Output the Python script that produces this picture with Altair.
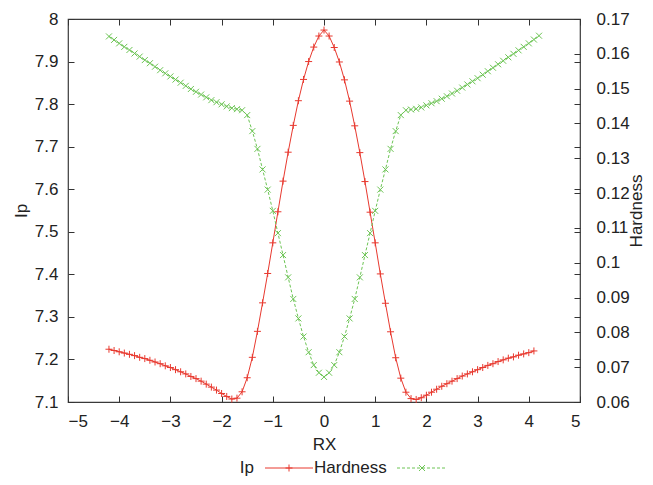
import altair as alt
import pandas as pd

# ---------------- data ----------------
ip_x = [-4.2, -4.1, -4.0, -3.9, -3.8, -3.7, -3.6, -3.5, -3.4, -3.3, -3.2, -3.1,
        -3.0, -2.9, -2.8, -2.7, -2.6, -2.5, -2.4, -2.3, -2.2, -2.1, -2.0, -1.9,
        -1.8, -1.7, -1.6, -1.5, -1.4, -1.3, -1.2, -1.1, -1.0, -0.9, -0.8, -0.7,
        -0.6, -0.5, -0.4, -0.3, -0.2, -0.1, 0.0, 0.1, 0.2, 0.3, 0.4, 0.5, 0.6,
        0.7, 0.8, 0.9, 1.0, 1.1, 1.2, 1.3, 1.4, 1.5, 1.6, 1.7, 1.8, 1.9, 2.0,
        2.1, 2.2, 2.3, 2.4, 2.5, 2.6, 2.7, 2.8, 2.9, 3.0, 3.1, 3.2, 3.3, 3.4,
        3.5, 3.6, 3.7, 3.8, 3.9, 4.0, 4.1]
ip_y = [7.224, 7.221, 7.218, 7.215, 7.212, 7.209, 7.205, 7.202, 7.198, 7.194,
        7.190, 7.185, 7.181, 7.176, 7.171, 7.166, 7.160, 7.155, 7.149, 7.142,
        7.135, 7.128, 7.120, 7.113, 7.107, 7.109, 7.124, 7.157, 7.205, 7.266,
        7.333, 7.402, 7.474, 7.547, 7.619, 7.687, 7.750, 7.808, 7.858, 7.900,
        7.934, 7.960, 7.974, 7.960, 7.933, 7.899, 7.857, 7.807, 7.749, 7.686,
        7.618, 7.546, 7.474, 7.401, 7.332, 7.265, 7.204, 7.156, 7.123, 7.108,
        7.106, 7.110, 7.116, 7.123, 7.130, 7.137, 7.143, 7.149, 7.155, 7.161,
        7.166, 7.171, 7.176, 7.181, 7.186, 7.190, 7.195, 7.199, 7.203, 7.206,
        7.210, 7.213, 7.216, 7.220]

hard_x = [-4.2, -4.1, -4.0, -3.9, -3.8, -3.7, -3.6, -3.5, -3.4, -3.3, -3.2, -3.1,
          -3.0, -2.9, -2.8, -2.7, -2.6, -2.5, -2.4, -2.3, -2.2, -2.1, -2.0, -1.9,
          -1.8, -1.7, -1.6, -1.5, -1.4, -1.3, -1.2, -1.1, -1.0, -0.9, -0.8, -0.7,
          -0.6, -0.5, -0.4, -0.3, -0.2, -0.1, 0.0, 0.1, 0.2, 0.3, 0.4, 0.5, 0.6,
          0.7, 0.8, 0.9, 1.0, 1.1, 1.2, 1.3, 1.4, 1.5, 1.6, 1.7, 1.8, 1.9, 2.0,
          2.1, 2.2, 2.3, 2.4, 2.5, 2.6, 2.7, 2.8, 2.9, 3.0, 3.1, 3.2, 3.3, 3.4,
          3.5, 3.6, 3.7, 3.8, 3.9, 4.0, 4.1, 4.2]
hard_y = [0.1650, 0.1640, 0.1630, 0.1620, 0.1611, 0.1601, 0.1592, 0.1582, 0.1573,
          0.1563, 0.1553, 0.1544, 0.1535, 0.1526, 0.1517, 0.1508, 0.1499, 0.1491,
          0.1483, 0.1475, 0.1467, 0.1461, 0.1455, 0.1449, 0.1444, 0.1441, 0.1438,
          0.1424, 0.1378, 0.1327, 0.1268, 0.1210, 0.1149, 0.1085, 0.1022, 0.0958,
          0.0896, 0.0840, 0.0788, 0.0743, 0.0706, 0.0684, 0.0672, 0.0684, 0.0706,
          0.0743, 0.0788, 0.0840, 0.0896, 0.0958, 0.1022, 0.1085, 0.1149, 0.1210,
          0.1268, 0.1327, 0.1378, 0.1424, 0.1438, 0.1440, 0.1442, 0.1446, 0.1452,
          0.1458, 0.1464, 0.1471, 0.1478, 0.1486, 0.1494, 0.1503, 0.1512, 0.1521,
          0.1530, 0.1540, 0.1550, 0.1560, 0.1570, 0.1580, 0.1590, 0.1600, 0.1610,
          0.1620, 0.1630, 0.1641, 0.1652]

x_ticks = [-5, -4, -3, -2, -1, 0, 1, 2, 3, 4, 5]
ip_ticks = [7.1, 7.2, 7.3, 7.4, 7.5, 7.6, 7.7, 7.8, 7.9, 8.0]
hard_ticks = [0.06, 0.07, 0.08, 0.09, 0.1, 0.11, 0.12, 0.13, 0.14, 0.15, 0.16, 0.17]
legend_labels = ["Ip", "Hardness"]

ip_df = pd.DataFrame({"RX": ip_x, "Ip": ip_y})
hard_df = pd.DataFrame({"RX": hard_x, "Hardness": hard_y})

# ---------------- styling ----------------
FONT = "Liberation Sans"
TXT = "#222222"
RED = "#e8392f"
GREEN = "#6cc454"
PLUS = "M-1,0H1M0,-1V1"
CROSS = "M-1,-1L1,1M-1,1L1,-1"

xscale = alt.Scale(domain=[-5, 5], nice=False, zero=False)
ipscale = alt.Scale(domain=[7.1, 8.0], nice=False, zero=False)
hscale = alt.Scale(domain=[0.06, 0.17], nice=False, zero=False)

x_bottom = alt.X("RX:Q", scale=xscale,
                 axis=alt.Axis(orient="bottom", values=x_ticks, offset=-6, tickSize=6,
                               labelPadding=11, format="d", title="RX", titlePadding=7))
x_top = alt.X("RX:Q", scale=xscale,
              axis=alt.Axis(orient="top", values=x_ticks, offset=-6, tickSize=6,
                            labels=False, title=""))
x_none = alt.X("RX:Q", scale=xscale, axis=None)

y_left = alt.Y("Ip:Q", scale=ipscale,
               axis=alt.Axis(orient="left", values=ip_ticks, offset=-6, tickSize=6,
                             labelPadding=10, labelExpr="'' + datum.value",
                             title="Ip", titlePadding=4))
y_left_mirror = alt.Y("Ip:Q", scale=ipscale,
                      axis=alt.Axis(orient="right", values=ip_ticks, offset=-6, tickSize=6,
                                    labels=False, title=""))
y_left_none = alt.Y("Ip:Q", scale=ipscale, axis=None)

y_right = alt.Y("Hardness:Q", scale=hscale,
                axis=alt.Axis(orient="right", values=hard_ticks, offset=-6, tickSize=6,
                              labelPadding=16, labelExpr="'' + datum.value",
                              title="Hardness", titleAngle=270, titleX=62, titleY=191.5,
                              titleAlign="center", titleBaseline="middle"))
y_right_none = alt.Y("Hardness:Q", scale=hscale, axis=None)

red_line = alt.Chart(ip_df).mark_line(color=RED, strokeWidth=1).encode(x=x_bottom, y=y_left)
red_pts = alt.Chart(ip_df).mark_point(shape=PLUS, size=49, color=RED, strokeWidth=1,
                                      filled=False, opacity=1).encode(x=x_none, y=y_left_none)
mirror = alt.Chart(ip_df).mark_line(opacity=0).encode(x=x_none, y=y_left_mirror)
green_line = alt.Chart(hard_df).mark_line(color=GREEN, strokeWidth=1,
                                          strokeDash=[3, 2]).encode(x=x_top, y=y_right)
green_pts = alt.Chart(hard_df).mark_point(shape=CROSS, size=36, color=GREEN, strokeWidth=1,
                                          filled=False, opacity=1).encode(x=x_none, y=y_right_none)

# ---------------- gnuplot-style legend under the plot ----------------
LY = 449
lab_ip = alt.Chart(pd.DataFrame({"t": [legend_labels[0]]})).mark_text(
    align="right", baseline="middle", font=FONT, fontSize=17, color=TXT
).encode(x=alt.value(186), y=alt.value(LY), text="t:N")
lab_h = alt.Chart(pd.DataFrame({"t": [legend_labels[1]]})).mark_text(
    align="left", baseline="middle", font=FONT, fontSize=17, color=TXT
).encode(x=alt.value(246), y=alt.value(LY), text="t:N")
leg_red_line = alt.Chart(pd.DataFrame({"t": [legend_labels[0]]})).mark_rule(
    color=RED, strokeWidth=1
).encode(x=alt.value(197), x2=alt.value(245), y=alt.value(LY))
leg_red_pt = alt.Chart(pd.DataFrame({"t": [legend_labels[0]]})).mark_point(
    shape=PLUS, size=49, color=RED, strokeWidth=1, filled=False, opacity=1
).encode(x=alt.value(221), y=alt.value(LY))
leg_green_line = alt.Chart(pd.DataFrame({"t": [legend_labels[1]]})).mark_rule(
    color=GREEN, strokeWidth=1, strokeDash=[3, 2]
).encode(x=alt.value(329), x2=alt.value(379), y=alt.value(LY))
leg_green_pt = alt.Chart(pd.DataFrame({"t": [legend_labels[1]]})).mark_point(
    shape=CROSS, size=36, color=GREEN, strokeWidth=1, filled=False, opacity=1
).encode(x=alt.value(354), y=alt.value(LY))

chart = alt.layer(
    red_line, red_pts, mirror, green_line, green_pts,
    lab_ip, lab_h, leg_red_line, leg_red_pt, leg_green_line, leg_green_pt
).resolve_scale(
    y="independent"
).resolve_axis(
    x="independent", y="independent"
).properties(
    width=512, height=383,
    autosize=alt.AutoSizeParams(type="none"),
    padding={"left": 60, "top": 11, "right": 65, "bottom": 75},
    background="white",
).configure_view(
    stroke="#3a3a3a", strokeWidth=1.2
).configure_axis(
    domain=False, grid=False, tickColor="#333333", tickWidth=1,
    labelFont=FONT, labelFontSize=17, labelColor=TXT,
    titleFont=FONT, titleFontSize=17, titleColor=TXT, titleFontWeight="normal",
)

chart.save("out.html", embed_options={"renderer": "svg", "actions": False})
